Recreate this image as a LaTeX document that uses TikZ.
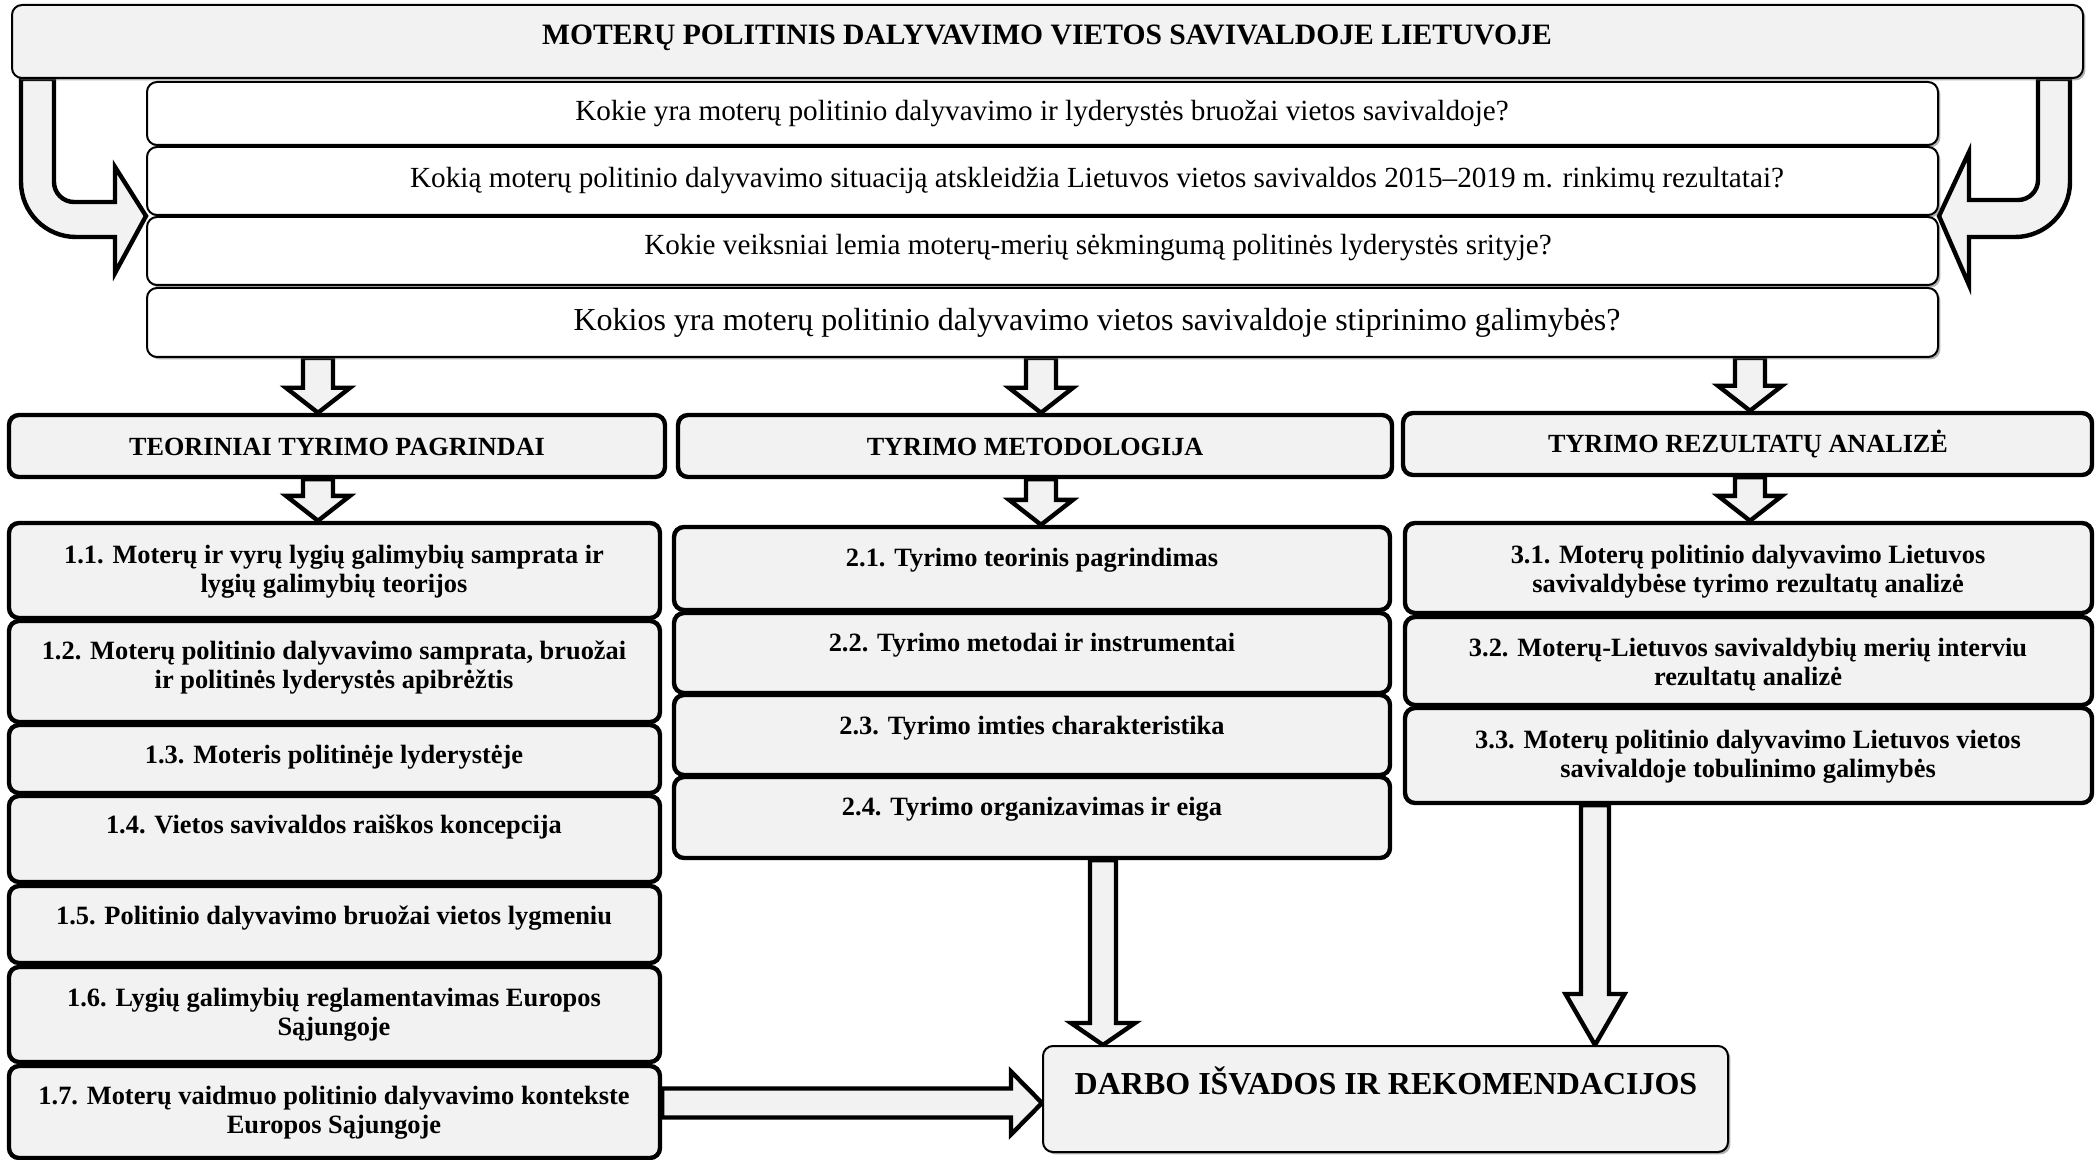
\documentclass[tikz,border=0pt]{standalone}
\usepackage{fontspec}
\setmainfont{Liberation Serif}
\usetikzlibrary{calc,fit,shadows}
\definecolor{boxgray}{HTML}{F2F2F2}
\pgfdeclarelayer{bg}
\pgfsetlayers{bg,main}
\tikzset{
  thinbox/.style={draw=black, line width=1pt, rounded corners=5pt, inner sep=0pt,
    drop shadow={shadow xshift=1.2pt, shadow yshift=-1.2pt, fill=black!60, opacity=0.5}},
  graybox/.style={thinbox, fill=boxgray},
  whitebox/.style={thinbox, fill=white},
  thickbox/.style={draw=black, line width=2.2pt, rounded corners=5pt, fill=boxgray, inner sep=0pt},
  blockarrow/.style={draw=black, line width=2.2pt, fill=boxgray, line join=miter},
  titletext/.style={font=\bfseries\fontsize{14.8}{17}\selectfont, inner sep=0pt},
  qtext/.style={font=\fontsize{14.6}{17}\selectfont, inner sep=0pt},
  qbigtext/.style={font=\fontsize{16}{19}\selectfont, inner sep=0pt},
  headtext/.style={font=\bfseries\fontsize{13.1}{15}\selectfont, inner sep=0pt},
  itemtext/.style={font=\bfseries\fontsize{13.2}{14.5}\selectfont, align=center, inner sep=0pt},
  endtext/.style={font=\bfseries\fontsize{16}{19}\selectfont, inner sep=0pt},
}
% downward block arrow: #1 start, #2 tip, #3 shaft half width, #4 head half width, #5 head length
\newcommand\downblock[5]{%
  \draw[blockarrow] let \p1=(#1), \p2=(#2) in
    (\x1-#3,\y1) -- (\x1-#3,\y2+#5) -- (\x1-#4,\y2+#5) -- (\x1,\y2)
    -- (\x1+#4,\y2+#5) -- (\x1+#3,\y2+#5) -- (\x1+#3,\y1) -- cycle;}
% rightward block arrow
\newcommand\rightblock[5]{%
  \draw[blockarrow] let \p1=(#1), \p2=(#2) in
    (\x1,\y1+#3) -- (\x2-#5,\y1+#3) -- (\x2-#5,\y1+#4) -- (\x2,\y1)
    -- (\x2-#5,\y1-#4) -- (\x2-#5,\y1-#3) -- (\x1,\y1-#3) -- cycle;}
\begin{document}
\begin{tikzpicture}[x=0.5pt, y=-0.5pt]
\useasboundingbox (0,0) rectangle (2098,1160);
\coordinate (c1) at (318,0);
\coordinate (c2) at (1041,0);
\coordinate (c3) at (1750,0);
\coordinate (c4) at (1103,0);
\coordinate (c5) at (1595,0);
\coordinate (c6) at (0,1103);

% top title
\node[graybox, fit={(12,5) (2083,78)}] (top) {};
\node[titletext] (ttop) at (1047,38) {MOTERŲ POLITINIS DALYVAVIMO VIETOS SAVIVALDOJE LIETUVOJE};

% questions
\node[whitebox, fit={(147,82) (1938,145)}] (q1) {};
\node[whitebox, fit={(147,147) (1938,215)}] (q2) {};
\node[whitebox, fit={(147,217) (1938,285)}] (q3) {};
\node[whitebox, fit={(147,288) (1938,357)}] (q4) {};
\node[qtext] (tq1) at (1042,113) {Kokie yra moterų politinio dalyvavimo ir lyderystės bruožai vietos savivaldoje?};
\node[qtext] (tq2) at (1097,180) {Kokią moterų politinio dalyvavimo situaciją atskleidžia Lietuvos vietos savivaldos 2015–2019 m. rinkimų rezultatai?};
\node[qtext] (tq3) at (1098,248) {Kokie veiksniai lemia moterų-merių sėkmingumą politinės lyderystės srityje?};
\node[qbigtext] (tq4) at (1097,323) {Kokios yra moterų politinio dalyvavimo vietos savivaldoje stiprinimo galimybės?};

% column headers
\node[thickbox, fit={(9,415) (665,477)}] (h1) {};
\node[thickbox, fit={(678,415) (1392,477)}] (h2) {};
\node[thickbox, fit={(1403,413) (2092,475)}] (h3) {};
\node[headtext] (th1) at (337,447) {TEORINIAI TYRIMO PAGRINDAI};
\node[headtext] (th2) at (1035,447) {TYRIMO METODOLOGIJA};
\node[headtext] (th3) at (1748,444) {TYRIMO REZULTATŲ ANALIZĖ};

% column 1
\node[thickbox, fit={(9,523) (660,618)}] (b11) {};
\node[thickbox, fit={(9,621) (660,722)}] (b12) {};
\node[thickbox, fit={(9,725) (660,793)}] (b13) {};
\node[thickbox, fit={(9,796) (660,882)}] (b14) {};
\node[thickbox, fit={(9,886) (660,963)}] (b15) {};
\node[thickbox, fit={(9,967) (660,1062)}] (b16) {};
\node[thickbox, fit={(9,1066) (660,1158)}] (b17) {};
\node[itemtext] (t11) at (334,572) {1.1. Moterų ir vyrų lygių galimybių samprata ir\\lygių galimybių teorijos};
\node[itemtext] (t12) at (334,668) {1.2. Moterų politinio dalyvavimo samprata, bruožai\\ir politinės lyderystės apibrėžtis};
\node[itemtext] (t13) at (334,757) {1.3. Moteris politinėje lyderystėje};
\node[itemtext] (t14) at (334,827) {1.4. Vietos savivaldos raiškos koncepcija};
\node[itemtext] (t15) at (334,918) {1.5. Politinio dalyvavimo bruožai vietos lygmeniu};
\node[itemtext] (t16) at (334,1015) {1.6. Lygių galimybių reglamentavimas Europos\\Sąjungoje};
\node[itemtext] (t17) at (334,1113) {1.7. Moterų vaidmuo politinio dalyvavimo kontekste\\Europos Sąjungoje};

% column 2
\node[thickbox, fit={(674,527) (1390,610)}] (b21) {};
\node[thickbox, fit={(674,613) (1390,693)}] (b22) {};
\node[thickbox, fit={(674,695) (1390,775)}] (b23) {};
\node[thickbox, fit={(674,777) (1390,858)}] (b24) {};
\node[itemtext] (t21) at (1032,560) {2.1. Tyrimo teorinis pagrindimas};
\node[itemtext] (t22) at (1032,645) {2.2. Tyrimo metodai ir instrumentai};
\node[itemtext] (t23) at (1032,728) {2.3. Tyrimo imties charakteristika};
\node[itemtext] (t24) at (1032,809) {2.4. Tyrimo organizavimas ir eiga};

% column 3
\node[thickbox, fit={(1405,523) (2092,613)}] (b31) {};
\node[thickbox, fit={(1405,617) (2092,705)}] (b32) {};
\node[thickbox, fit={(1405,708) (2092,803)}] (b33) {};
\node[itemtext] (t31) at (1748,572) {3.1. Moterų politinio dalyvavimo Lietuvos\\savivaldybėse tyrimo rezultatų analizė};
\node[itemtext] (t32) at (1748,665) {3.2. Moterų-Lietuvos savivaldybių merių interviu\\rezultatų analizė};
\node[itemtext] (t33) at (1748,757) {3.3. Moterų politinio dalyvavimo Lietuvos vietos\\savivaldoje tobulinimo galimybės};

% conclusions
\node[graybox, fit={(1043,1046) (1728,1152)}] (end) {};
\node[endtext] (tend) at (1386,1081) {DARBO IŠVADOS IR REKOMENDACIJOS};

\begin{pgfonlayer}{bg}
  % curved arrows from title into questions
  \draw[blockarrow] (top.south -| 21,0) -- (21,182) arc[start angle=180, end angle=270, radius=27.5pt]
    -- (115,237) -- (115,273) -- ($(q2.south west)!0.5!(q3.north west)$) -- (115,167) -- (115,202)
    -- (74,202) arc[start angle=270, end angle=180, radius=10pt] -- (top.south -| 54,0) -- cycle;
  \draw[blockarrow] (top.south -| 2070,0) -- (2070,182) arc[start angle=0, end angle=-90, radius=27.5pt]
    -- (1969,237) -- (1969,285) -- ($(q2.south east)!0.5!(q3.north east)$) -- (1969,152) -- (1969,200)
    -- (2018,200) arc[start angle=270, end angle=360, radius=10pt] -- (top.south -| 2038,0) -- cycle;
  % questions to headers
  \downblock{q4.south -| c1}{h1.north -| c1}{7.5pt}{16pt}{12.5pt}
  \downblock{q4.south -| c2}{h2.north -| c2}{7.5pt}{16pt}{12.5pt}
  \downblock{q4.south -| c3}{h3.north -| c3}{7.5pt}{16pt}{12.5pt}
  % headers to first items
  \downblock{h1.south -| c1}{b11.north -| c1}{7.5pt}{16pt}{12.5pt}
  \downblock{h2.south -| c2}{b21.north -| c2}{7.5pt}{16pt}{12.5pt}
  \downblock{h3.south -| c3}{b31.north -| c3}{7.5pt}{16pt}{12.5pt}
  % to conclusions
  \downblock{b24.south -| c4}{end.north -| c4}{6.5pt}{16pt}{11pt}
  \downblock{b33.south -| c5}{end.north -| c5}{7pt}{14.75pt}{25.5pt}
  \rightblock{b17.east |- c6}{end.west |- c6}{7.25pt}{15.75pt}{15.5pt}
\end{pgfonlayer}
\end{tikzpicture}
\end{document}
